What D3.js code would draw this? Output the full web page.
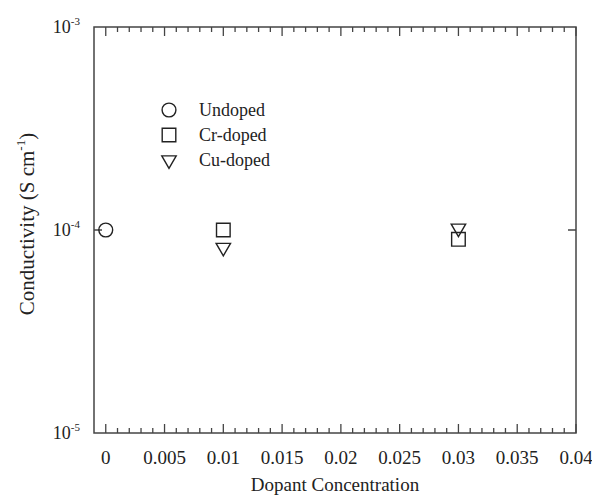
<!DOCTYPE html>
<html>
<head>
<meta charset="utf-8">
<script src="https://cdn.jsdelivr.net/npm/d3@7"></script>
<style>
  body { margin: 0; background: #fff; }
  text { font-family: "Liberation Serif", "Times New Roman", serif; fill: #222; }
</style>
</head>
<body>
<svg id="chart" width="592" height="497"></svg>
<script>
// series
var seriesNames = ["Undoped", "Cr-doped", "Cu-doped"];
var undopedX = [0];
var undopedY = [1.0e-4];
var crX = [0.01, 0.03];
var crY = [1.0e-4, 0.90e-4];
var cuX = [0.01, 0.03];
var cuY = [0.82e-4, 1.02e-4];
// axis ticks
var xTicks = [0, 0.005, 0.01, 0.015, 0.02, 0.025, 0.03, 0.035, 0.04];
var xTickLabels = ["0", "0.005", "0.01", "0.015", "0.02", "0.025", "0.03", "0.035", "0.04"];
var yTicks = [1e-5, 1e-4, 1e-3];
var yExponents = ["-5", "-4", "-3"];

var svg = d3.select("#chart");
var pLeft = 94, pRight = 576, pTop = 27, pBottom = 433;

var x = d3.scaleLinear().domain([-0.001, 0.04]).range([pLeft, pRight]);
var y = d3.scaleLog().domain([1e-5, 1e-3]).range([pBottom, pTop]);

var axisColor = "#444";

// minor x ticks
var minor = d3.range(0, 0.0405, 0.001);

var g = svg.append("g");
// frame
g.append("rect")
  .attr("x", pLeft).attr("y", pTop)
  .attr("width", pRight - pLeft).attr("height", pBottom - pTop)
  .attr("fill", "none").attr("stroke", axisColor).attr("stroke-width", 1.5);

// bottom and top ticks
[pBottom, pTop].forEach(function(yy) {
  var dir = yy == pBottom ? -1 : 1;
  g.selectAll(null).data(minor).enter().append("line")
    .attr("x1", function(d) { return x(d); })
    .attr("x2", function(d) { return x(d); })
    .attr("y1", yy)
    .attr("y2", function(d) {
      var major = Math.abs(Math.round(d / 0.005) * 0.005 - d) < 1e-9;
      return yy + dir * (major ? 9 : 5);
    })
    .attr("stroke", axisColor).attr("stroke-width", 1.3);
});

// x tick labels
g.selectAll(null).data(xTicks).enter().append("text")
  .attr("x", function(d) { return x(d); })
  .attr("y", 464)
  .attr("text-anchor", "middle")
  .attr("font-size", 19)
  .text(function(d, i) { return xTickLabels[i]; });

// y ticks at 1e-4 on both sides
g.append("line").attr("x1", pLeft).attr("x2", pLeft + 8)
  .attr("y1", y(1e-4)).attr("y2", y(1e-4)).attr("stroke", axisColor).attr("stroke-width", 1.5);
g.append("line").attr("x1", pRight - 8).attr("x2", pRight)
  .attr("y1", y(1e-4)).attr("y2", y(1e-4)).attr("stroke", axisColor).attr("stroke-width", 1.5);

// y tick labels
var yl = g.selectAll(null).data(yTicks).enter().append("text")
  .attr("x", 80)
  .attr("y", function(d) { return y(d) + 6; })
  .attr("text-anchor", "end")
  .attr("font-size", 18);
yl.append("tspan").text("10");
yl.append("tspan").attr("dy", -8).attr("font-size", 11).text(function(d, i) { return yExponents[i]; });

// axis titles
svg.append("text")
  .attr("x", x(0.0195)).attr("y", 491)
  .attr("text-anchor", "middle").attr("font-size", 19)
  .text("Dopant Concentration");

var yt = svg.append("text")
  .attr("transform", "translate(34,224) rotate(-90)")
  .attr("text-anchor", "middle").attr("font-size", 21);
yt.append("tspan").text("Conductivity (S cm");
yt.append("tspan").attr("dy", -9).attr("font-size", 13).text("-1");
yt.append("tspan").attr("dy", 9).text(")");

// markers
var symbols = [d3.symbolCircle, d3.symbolSquare, d3.symbolTriangle];
var sizes = [150, 185, 90];
function marker(i) {
  return d3.symbol().type(symbols[i]).size(sizes[i])();
}
function drawSeries(xs, ys, i) {
  g.selectAll(null).data(xs).enter().append("path")
    .attr("d", marker(i))
    .attr("transform", function(d, j) {
      return "translate(" + x(d) + "," + y(ys[j]) + ")" + (i == 2 ? " rotate(180)" : "");
    })
    .attr("fill", "none").attr("stroke", "#222").attr("stroke-width", 1.4);
}
drawSeries(undopedX, undopedY, 0);
drawSeries(crX, crY, 1);
drawSeries(cuX, cuY, 2);

// legend
var legend = svg.append("g").attr("class", "legend");
seriesNames.forEach(function(name, i) {
  var ly = 110 + i * 25;
  legend.append("path")
    .attr("d", marker(i))
    .attr("transform", "translate(169," + ly + ")" + (i == 2 ? " rotate(180)" : ""))
    .attr("fill", "none").attr("stroke", "#222").attr("stroke-width", 1.4);
  legend.append("text")
    .attr("x", 199).attr("y", ly + 6)
    .attr("font-size", 18)
    .text(name);
});
</script>
</body>
</html>
